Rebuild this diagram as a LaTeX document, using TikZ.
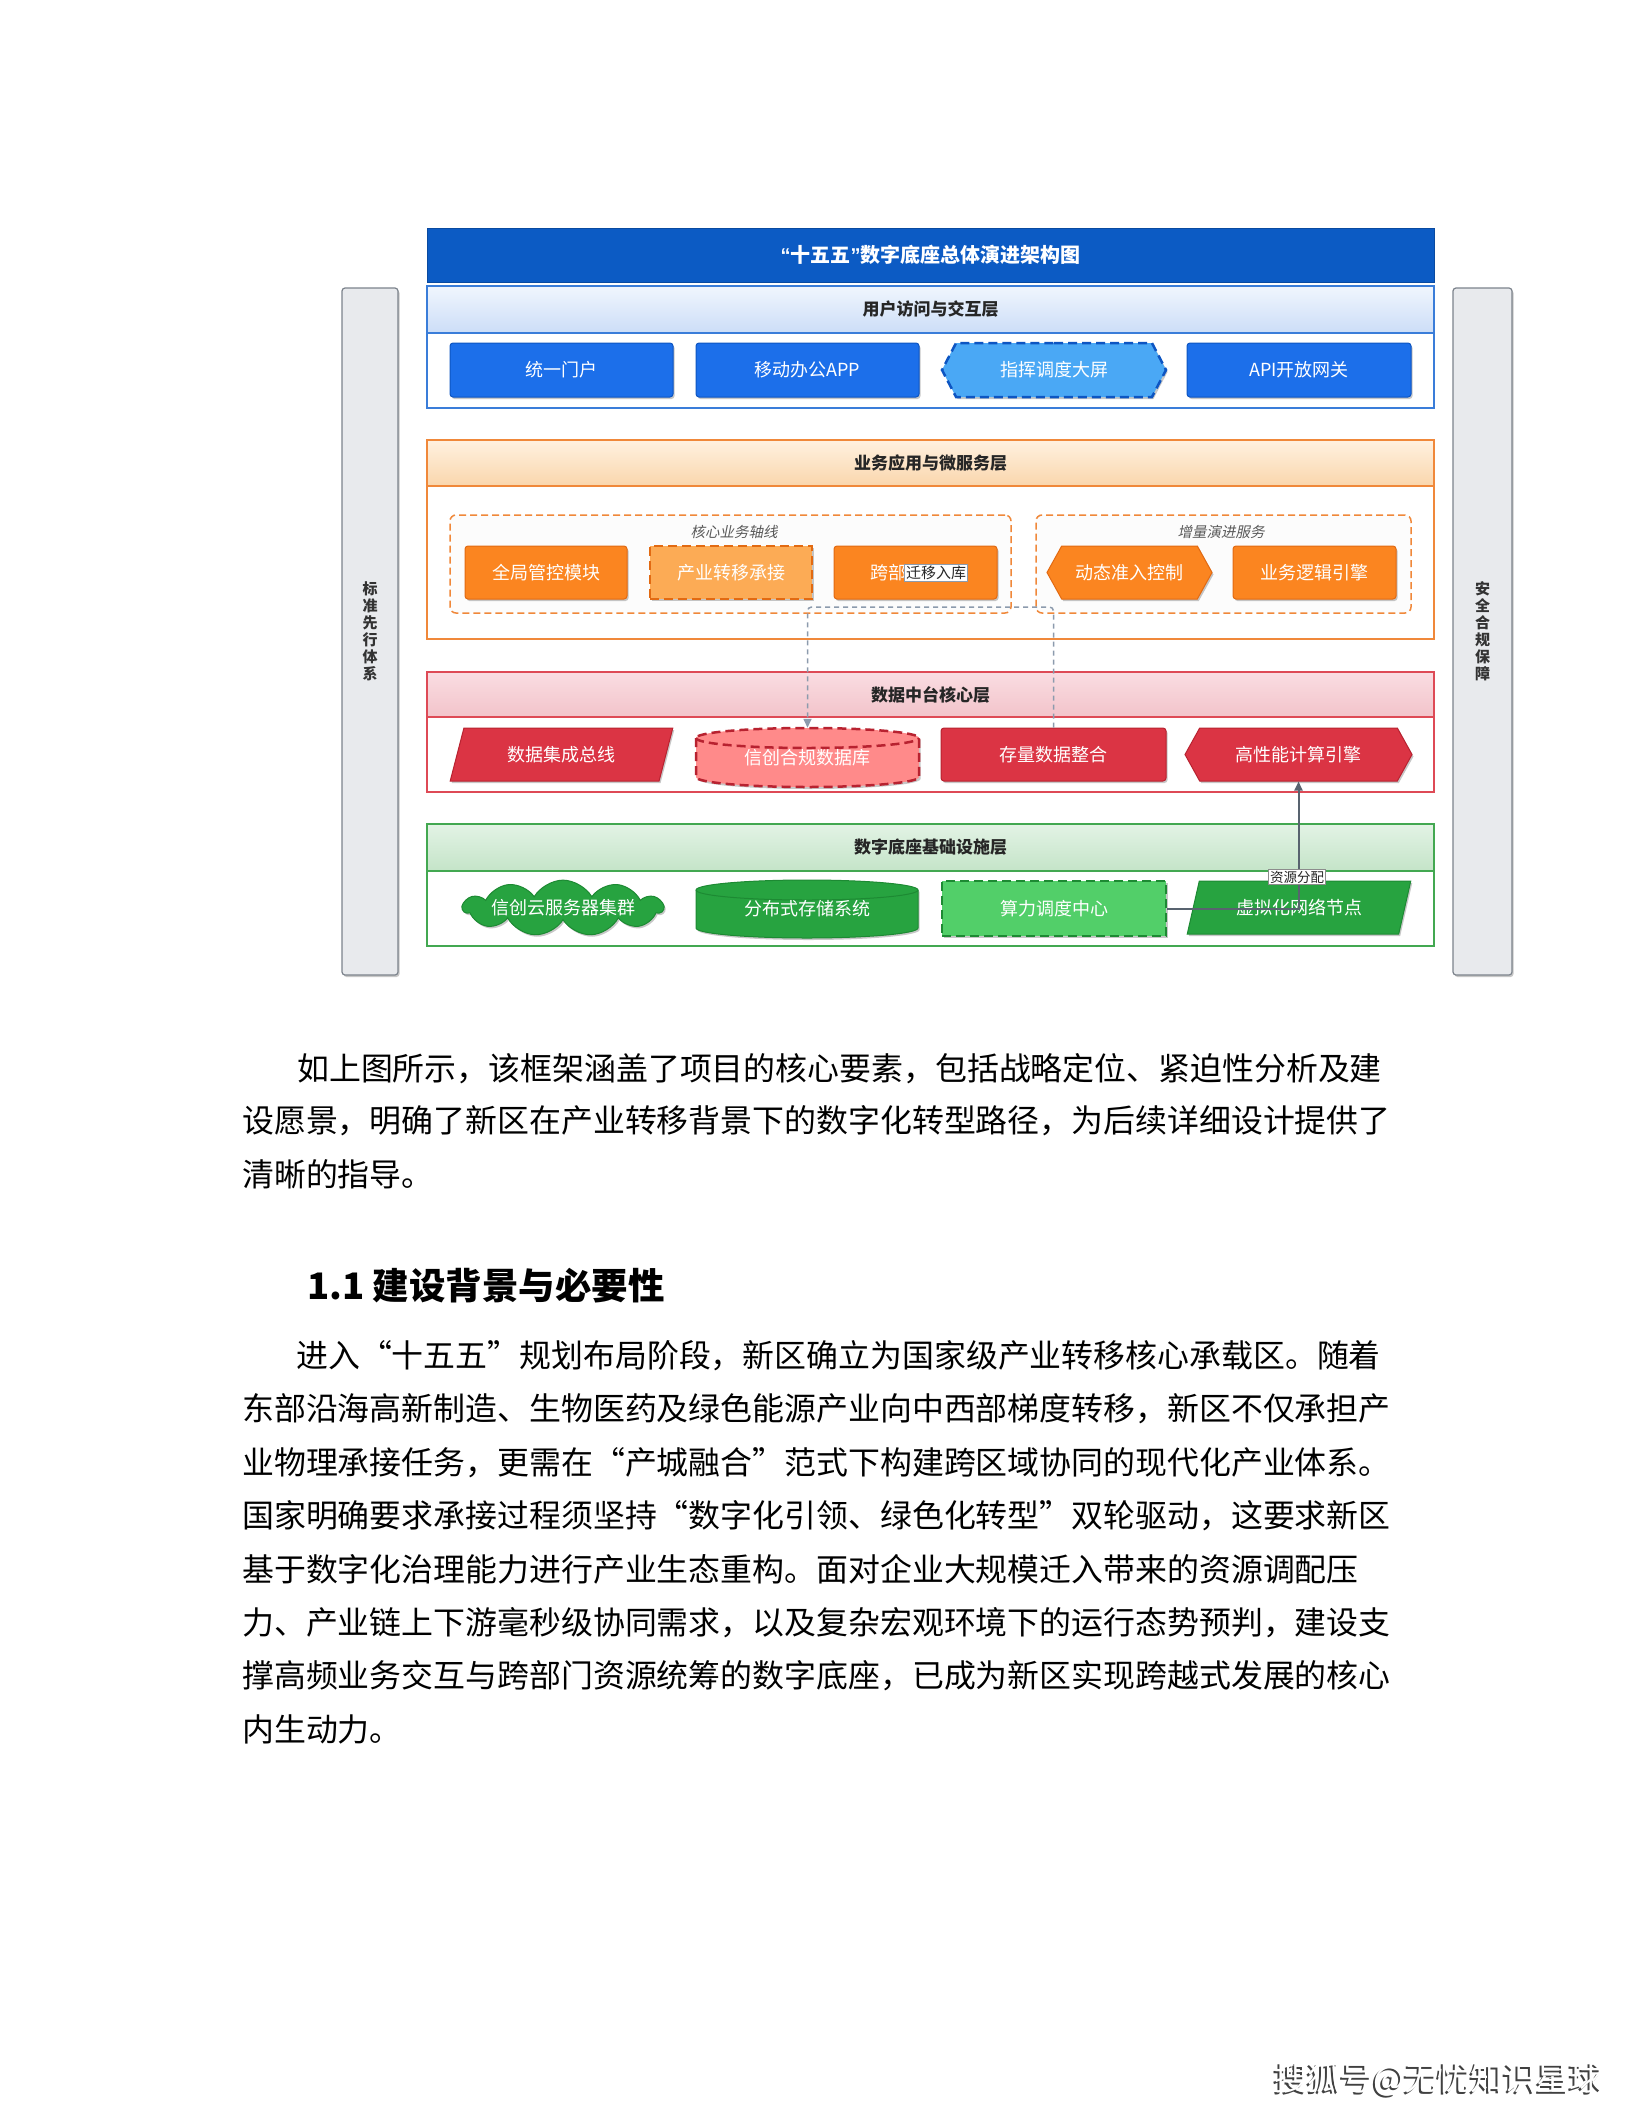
\documentclass[tikz,border=0pt]{standalone}
\usepackage{fontspec}
\setmainfont{Noto Sans CJK SC}
\newfontfamily\slcjk{Noto Sans CJK SC}[FakeSlant=0.2]
\newfontfamily\latq{Liberation Sans}
\usetikzlibrary{shapes.geometric,shapes.symbols,shadows,arrows.meta}
\definecolor{cTitle}{HTML}{0C5BC4}
\definecolor{cTitleD}{HTML}{0A4AA0}
\definecolor{bL}{HTML}{3A7DD9}
\definecolor{bHt}{HTML}{F0F6FE}
\definecolor{bHb}{HTML}{CCDDF7}
\definecolor{bF}{HTML}{1C6FEA}
\definecolor{bD}{HTML}{0D55C2}
\definecolor{bFl}{HTML}{4AA8F5}
\definecolor{oL}{HTML}{F0883A}
\definecolor{oHt}{HTML}{FFF1E0}
\definecolor{oHb}{HTML}{FAD6AC}
\definecolor{oF}{HTML}{FB8520}
\definecolor{oD}{HTML}{E26A12}
\definecolor{oFl}{HTML}{FCAB55}
\definecolor{rL}{HTML}{DE4A56}
\definecolor{rHt}{HTML}{FADDE2}
\definecolor{rHb}{HTML}{F2C3CA}
\definecolor{rF}{HTML}{DB3444}
\definecolor{rD}{HTML}{B82230}
\definecolor{rFl}{HTML}{FF8A8A}
\definecolor{gL}{HTML}{43A851}
\definecolor{gHt}{HTML}{E3F3E5}
\definecolor{gHb}{HTML}{C4E4C8}
\definecolor{gF}{HTML}{27A340}
\definecolor{gD}{HTML}{1D8A33}
\definecolor{gFl}{HTML}{52CF69}
\definecolor{sideF}{HTML}{E8EAED}
\definecolor{sideD}{HTML}{7C838C}
\definecolor{dcon}{HTML}{8C9BAD}
\definecolor{scon}{HTML}{58636F}
\newcommand\oq{\makebox[1em][r]{“}}
\newcommand\cq{\makebox[1em][l]{”}}
\begin{document}
\begin{tikzpicture}[x=1pt,y=-1pt,
  shd/.style={drop shadow={shadow xshift=1.5pt,shadow yshift=-2pt,opacity=.22,fill=black}},
  item/.style={inner sep=0pt,text=white,font=\fontsize{18pt}{20pt}\selectfont,line width=1pt,shd},
  dsh/.style={line width=2.5pt,dash pattern=on 9pt off 5pt},
  recti/.style={rectangle,rounded corners=3pt},
  hexi/.style={signal,signal to=east and west,signal pointer angle=122},
  para/.style={trapezium,trapezium left angle=65.6,trapezium right angle=114.4,trapezium stretches=true},
  layer/.style={rectangle,fill=white,line width=1.5pt,inner sep=0pt,minimum width=1007pt},
  hdr/.style={rectangle,line width=1.5pt,inner sep=0pt,minimum width=1007pt,anchor=north,font=\bfseries\fontsize{17pt}{19pt}\selectfont,text=black!85},
  grp/.style={rectangle,rounded corners=6pt,draw=oL,fill=black!1,line width=1.5pt,dash pattern=on 7pt off 4pt},
  glabel/.style={inner sep=0pt,font=\slcjk\fontsize{14.5pt}{16pt}\selectfont,text=black!65},
  side/.style={rectangle,rounded corners=3pt,fill=sideF,draw=sideD,line width=1.2pt,shd,align=center,font=\bfseries\fontsize{15pt}{17pt}\selectfont,text=black!80},
  lbl/.style={fill=white,draw=dcon,line width=0.8pt,inner sep=1.5pt,text=black!85},
  dconn/.style={draw=dcon,line width=1.5pt,dash pattern=on 5pt off 4pt,rounded corners=4pt,-{Triangle[length=9pt,width=8pt]}},
  sconn/.style={draw=scon,line width=2pt,-{Triangle[length=9pt,width=8pt]}},
  body/.style={anchor=base west,inner sep=0pt,font=\fontsize{31.9pt}{34pt}\selectfont,text=black}
]
\useasboundingbox (0,0) rectangle (1632,2112);
\fill[white] (0,0) rectangle (1632,2112);

% side bars
\node[side,minimum width=56pt,minimum height=687pt] (sL) at (370,631.5) {标\\准\\先\\行\\体\\系};
\node[side,minimum width=59pt,minimum height=687pt] (sR) at (1482.5,631.5) {安\\全\\合\\规\\保\\障};

% title
\node[rectangle,fill=cTitle,draw=cTitleD,line width=1pt,minimum width=1007pt,minimum height=54pt,text=white,font=\bfseries\fontsize{20pt}{22pt}\selectfont] (T) at (930.5,255) {{\latq\bfseries “}十五五{\latq\bfseries ”}数字底座总体演进架构图};

% layer 1
\node[layer,draw=bL,minimum height=122pt] (L1) at (930.5,347) {};
\node[hdr,draw=bL,top color=bHt,bottom color=bHb,minimum height=47pt] (L1h) at (L1.north) {用户访问与交互层};
\node[item,recti,fill=bF,draw=bD,minimum width=223pt,minimum height=54pt] (u1) at (561.5,370) {统一门户};
\node[item,recti,fill=bF,draw=bD,minimum width=223pt,minimum height=54pt] (u2) at (807.5,370) {移动办公APP};
\node[item,hexi,signal pointer angle=125,fill=bFl,draw=bD,dsh,minimum width=224pt,minimum height=54pt] (u3) at (1054,370) {指挥调度大屏};
\node[item,recti,fill=bF,draw=bD,minimum width=224pt,minimum height=54pt] (u4) at (1299,370) {API开放网关};

% layer 2
\node[layer,draw=oL,minimum height=199pt] (L2) at (930.5,539.5) {};
\node[hdr,draw=oL,top color=oHt,bottom color=oHb,minimum height=46pt] (L2h) at (L2.north) {业务应用与微服务层};
\node[grp,minimum width=561pt,minimum height=98pt] (g1) at (730.5,564) {};
\node[grp,minimum width=375pt,minimum height=98pt] (g2) at (1223.5,564) {};
\node[glabel] (g1l) at (734,532) {核心业务轴线};
\node[glabel] (g2l) at (1221,532) {增量演进服务};
\node[item,recti,fill=oF,draw=oD,minimum width=162pt,minimum height=53pt] (b1) at (546,572.5) {全局管控模块};
\node[item,rectangle,fill=oFl,draw=oD,dsh,minimum width=162pt,minimum height=53pt] (b2) at (731,572.5) {产业转移承接};
\node[item,recti,fill=oF,draw=oD,minimum width=163pt,minimum height=53pt] (b3) at (915.5,572.5) {\makebox[90pt][l]{跨部}};
\node[item,hexi,fill=oF,draw=oD,minimum width=165pt,minimum height=53pt] (b4) at (1129.5,572.5) {动态准入控制};
\node[item,recti,fill=oF,draw=oD,minimum width=163pt,minimum height=53pt] (b5) at (1314.5,572.5) {业务逻辑引擎};

% layer 3
\node[layer,draw=rL,minimum height=120pt] (L3) at (930.5,732) {};
\node[hdr,draw=rL,top color=rHt,bottom color=rHb,minimum height=45pt] (L3h) at (L3.north) {数据中台核心层};
\node[item,para,fill=rF,draw=rD,minimum width=223pt,minimum height=53pt] (d1) at (561.5,754.5) {数据集成总线};
\fill[black,opacity=.22,xshift=1.5pt,yshift=-2pt] (696,738) -- (696,777) arc[start angle=180,end angle=360,x radius=111.5pt,y radius=10pt] -- (919,738) arc[start angle=0,end angle=180,x radius=111.5pt,y radius=10pt] -- cycle;
\path[fill=rFl,draw=rD,dsh] (696,738) -- (696,777) arc[start angle=180,end angle=360,x radius=111.5pt,y radius=10pt] -- (919,738) arc[start angle=0,end angle=180,x radius=111.5pt,y radius=10pt] -- cycle;
\draw[rD,dsh] (696,738) arc[start angle=180,end angle=360,x radius=111.5pt,y radius=10pt];
\node[inner sep=0pt,text=white,font=\fontsize{18pt}{20pt}\selectfont,minimum width=223pt,minimum height=59pt] (d2) at (807.5,757.5) {信创合规数据库};
\node[item,recti,fill=rF,draw=rD,minimum width=225pt,minimum height=53pt] (d3) at (1053.5,754.5) {存量数据整合};
\node[item,hexi,fill=rF,draw=rD,minimum width=227pt,minimum height=53pt] (d4) at (1298.5,754.5) {高性能计算引擎};

% layer 4
\node[layer,draw=gL,minimum height=122pt] (L4) at (930.5,885) {};
\node[hdr,draw=gL,top color=gHt,bottom color=gHb,minimum height=47pt] (L4h) at (L4.north) {数字底座基础设施层};
\node[item,cloud,cloud puffs=11,cloud puff arc=120,cloud ignores aspect,fill=gF,draw=gD,minimum width=200pt,minimum height=46pt] (i1) at (563,908) {信创云服务器集群};
\fill[black,opacity=.22,xshift=1.5pt,yshift=-2pt] (696,890) -- (696,928) arc[start angle=180,end angle=360,x radius=111pt,y radius=10pt] -- (918,890) arc[start angle=0,end angle=180,x radius=111pt,y radius=10pt] -- cycle;
\path[fill=gF,draw=gD,line width=1pt] (696,890) -- (696,928) arc[start angle=180,end angle=360,x radius=111pt,y radius=10pt] -- (918,890) arc[start angle=0,end angle=180,x radius=111pt,y radius=10pt] -- cycle;
\draw[gD,line width=1pt] (696,890) arc[start angle=180,end angle=360,x radius=111pt,y radius=10pt];
\node[inner sep=0pt,text=white,font=\fontsize{18pt}{20pt}\selectfont,minimum width=222pt,minimum height=58pt] (i2) at (807,909) {分布式存储系统};
\node[item,rectangle,fill=gFl,draw=gD,dsh,minimum width=224pt,minimum height=55pt] (i3) at (1054,908.5) {算力调度中心};
\node[item,para,fill=gF,draw=gD,minimum width=224pt,minimum height=53pt] (i4) at (1299,907.5) {虚拟化网络节点};

% connectors
\coordinate (turn) at (0,607);
\draw[dconn] (d3.north) -- (d3.north |- turn) -| (d2.north);
\node[lbl,font=\fontsize{15pt}{16pt}\selectfont] (lb1) at (936,573) {迁移入库};
\draw[sconn] (i3.east) -| (d4.south);
\node[lbl,draw=black!45,font=\fontsize{13.5pt}{15pt}\selectfont] (lb2) at (1297,877) {资源分配};

% body text
\node[body] (p1a) at (297,1080.5) {如上图所示，该框架涵盖了项目的核心要素，包括战略定位、紧迫性分析及建};
\node[body] (p1b) at (242,1132.5) {设愿景，明确了新区在产业转移背景下的数字化转型路径，为后续详细设计提供了};
\node[body] (p1c) at (242,1186.5) {清晰的指导。};
\node[anchor=base west,inner sep=0pt,font=\bfseries\fontsize{36.5pt}{40pt}\selectfont] (h1) at (307,1299) {1.1 建设背景与必要性};
\node[body] (p2a) at (296,1367.5) {进入\oq 十五五\cq 规划布局阶段，新区确立为国家级产业转移核心承载区。随着};
\node[body] (p2b) at (242,1420.9) {东部沿海高新制造、生物医药及绿色能源产业向中西部梯度转移，新区不仅承担产};
\node[body] (p2c) at (242,1474.3) {业物理承接任务，更需在\oq 产城融合\cq 范式下构建跨区域协同的现代化产业体系。};
\node[body] (p2d) at (242,1527.7) {国家明确要求承接过程须坚持\oq 数字化引领、绿色化转型\cq 双轮驱动，这要求新区};
\node[body] (p2e) at (242,1581.1) {基于数字化治理能力进行产业生态重构。面对企业大规模迁入带来的资源调配压};
\node[body] (p2f) at (242,1634.5) {力、产业链上下游毫秒级协同需求，以及复杂宏观环境下的运行态势预判，建设支};
\node[body] (p2g) at (242,1687.9) {撑高频业务交互与跨部门资源统筹的数字底座，已成为新区实现跨越式发展的核心};
\node[body] (p2h) at (242,1741.3) {内生动力。};

% footer mark
\node[anchor=base west,inner sep=0pt,font=\fontsize{33pt}{35pt}\selectfont,text=black!75] (wm0) at (1272.5,2092) {搜狐号@无忧知识星球};
\node[anchor=base west,inner sep=0pt,font=\fontsize{33pt}{35pt}\selectfont,text=white] (wm) at (1274,2090.5) {搜狐号@无忧知识星球};
\end{tikzpicture}
\end{document}
